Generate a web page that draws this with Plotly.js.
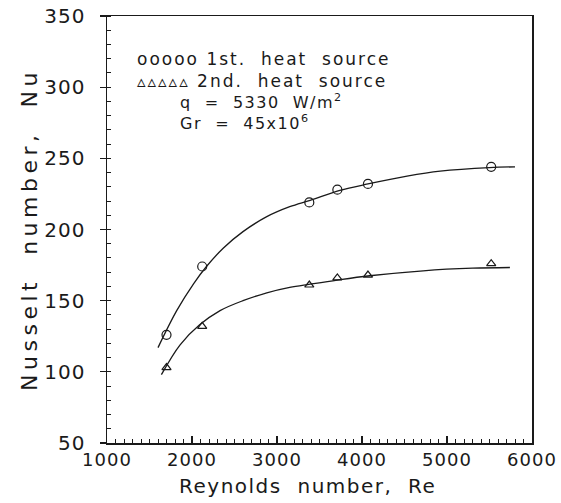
<!DOCTYPE html>
<html><head><meta charset="utf-8">
<script src="https://cdn.plot.ly/plotly-3.0.1.min.js"></script>
<style>body{margin:0;background:#fff}#c{width:561px;height:503px}</style>
</head><body><div id="c"></div>
<script>
// measured points
const re1 = [1700, 2120, 3380, 3710, 4070, 5520];
const nu1 = [126, 174, 219, 228, 232, 244];
const re2 = [1700, 2120, 3380, 3710, 4070, 5520];
const nu2 = [103, 132, 161, 166, 168, 176];
// fitted curves
const fitRe1 = [1600, 1820, 2020, 2170, 2370, 2600, 2880, 3150, 3390, 3740, 4070, 4530, 4920, 5500, 5800];
const fitNu1 = [117, 143, 162, 174, 187, 198.5, 209, 216, 220.5, 227.5, 232, 237.5, 241, 243.5, 244];
const fitRe2 = [1640, 1860, 2090, 2330, 2600, 2880, 3150, 3390, 3710, 4090, 4720, 5300, 5740];
const fitNu2 = [98, 119, 133, 143, 150, 155.5, 159.3, 161.6, 164.5, 167.5, 171, 172.8, 173.3];
const xTickVals = [1000, 2000, 3000, 4000, 5000, 6000];
const yTickVals = [50, 100, 150, 200, 250, 300, 350];

const F = "DejaVu Sans, sans-serif";
const C = '#1a1a1a';
const sp = (t, ls) => '<span style="letter-spacing:' + ls + 'px">' + t + '</span>';
const traces = [
  {x: fitRe1, y: fitNu1, mode: 'lines', line: {color: C, width: 1.3, shape: 'spline', smoothing: 1}, hoverinfo: 'skip'},
  {x: fitRe2, y: fitNu2, mode: 'lines', line: {color: C, width: 1.3, shape: 'spline', smoothing: 1}, hoverinfo: 'skip'},
  {x: re1, y: nu1, mode: 'markers', marker: {symbol: 'circle-open', size: 9, color: C, line: {width: 1.2}}},
  {x: re2, y: nu2, mode: 'markers', marker: {symbol: 'triangle-up-open', size: 8, color: C, line: {width: 1.2}}}
];
const layout = {
  width: 561, height: 503,
  margin: {l: 107, r: 29, t: 16, b: 60},
  paper_bgcolor: '#fff', plot_bgcolor: '#fff',
  showlegend: false,
  font: {family: F, color: C, size: 16},
  xaxis: {
    range: [1000, 6000], tickvals: xTickVals, ticktext: xTickVals.map(v => sp(String(v), 1)),
    ticks: 'inside', ticklen: 7, tickwidth: 1.2, tickcolor: C,
    minor: {dtick: 100, ticks: 'inside', ticklen: 4, tickcolor: C, tickwidth: 1},
    showline: true, linecolor: C, linewidth: 1.5, mirror: true,
    showgrid: false, zeroline: false,
    tickfont: {size: 18, family: F, color: C},
    title: {text: sp('Reynolds\u00a0 number,\u00a0 Re\u00a0\u00a0\u00a0', 1.5), font: {size: 20, family: F, color: C}, standoff: 10}
  },
  yaxis: {
    range: [50, 350], tickvals: yTickVals, ticktext: yTickVals.map(v => sp(String(v), 1)),
    ticks: 'outside', ticklen: 6, tickwidth: 1.2, tickcolor: C,
    minor: {dtick: 10, ticks: 'inside', ticklen: 4, tickcolor: C, tickwidth: 1},
    showline: true, linecolor: C, linewidth: 1.5, mirror: true,
    showgrid: false, zeroline: false,
    ticklabelstandoff: 10,
    tickfont: {size: 20, family: F, color: C},
    title: {text: sp('Nusselt\u00a0 number,\u00a0 Nu', 4.5), font: {size: 22, family: F, color: C}, standoff: 0}
  },
  annotations: [
    {x: 1330, y: 320, xref: 'x', yref: 'y', xanchor: 'left', yanchor: 'middle', showarrow: false,
     text: sp('ooooo 1st.\u00a0 heat\u00a0 source', 2), font: {size: 17, family: F, color: C}},
    {x: 1330, y: 304.5, xref: 'x', yref: 'y', xanchor: 'left', yanchor: 'middle', showarrow: false,
     text: sp('\u25b5\u25b5\u25b5\u25b5\u25b5 2nd.\u00a0 heat\u00a0 source', 2), font: {size: 17, family: F, color: C}},
    {x: 1830, y: 290, xref: 'x', yref: 'y', xanchor: 'left', yanchor: 'middle', showarrow: false,
     text: sp('q\u00a0 =\u00a0 5330\u00a0 W/m<sup>2</sup>', 1.5), font: {size: 16, family: F, color: C}},
    {x: 1830, y: 275.3, xref: 'x', yref: 'y', xanchor: 'left', yanchor: 'middle', showarrow: false,
     text: sp('Gr\u00a0 =\u00a0 45x10<sup>6</sup>', 1.5), font: {size: 16, family: F, color: C}}
  ]
};
Plotly.newPlot('c', traces, layout, {displayModeBar: false, staticPlot: true});
</script>
</body></html>
